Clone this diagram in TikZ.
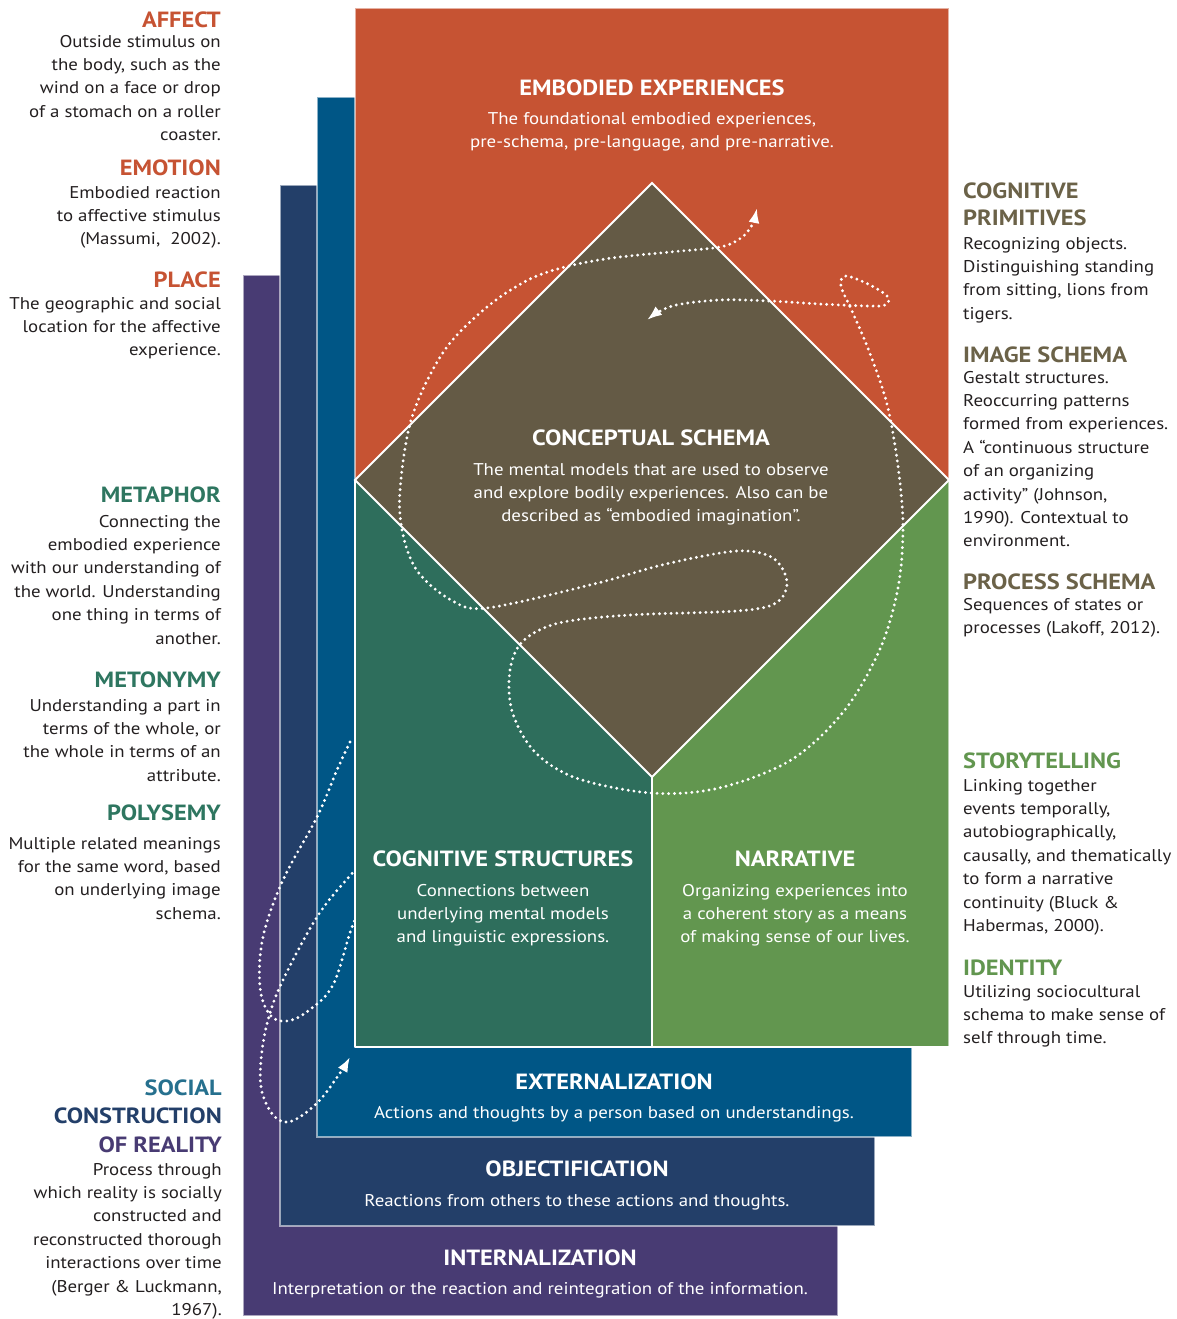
\documentclass[tikz,border=0pt]{standalone}
\usepackage{fontspec}
\setmainfont[FakeStretch=1.11]{PT Sans}
\usepackage{xcolor}
\definecolor{ColRed}{RGB}{198,83,51}
\definecolor{ColBrown}{RGB}{100,90,69}
\definecolor{ColTeal}{RGB}{46,110,92}
\definecolor{ColGreen}{RGB}{98,150,79}
\definecolor{ColBlue}{RGB}{0,86,134}
\definecolor{ColNavy}{RGB}{35,63,105}
\definecolor{ColPurple}{RGB}{72,59,115}
\definecolor{ColMeta}{RGB}{46,118,96}
\definecolor{ColOlive}{RGB}{107,98,72}
\definecolor{ColSocial}{RGB}{38,112,142}
\definecolor{ColText}{RGB}{35,31,32}
\usetikzlibrary{arrows.meta}
\tikzstyle{Layer}=[draw=white,draw opacity=.55,line width=1.2pt]
\tikzstyle{Head}=[inner sep=0pt,font=\fontsize{22}{27}\selectfont\bfseries]
\tikzstyle{Body}=[inner sep=0pt,font=\fontsize{17}{23.4}\selectfont,text=ColText]
\tikzstyle{Inner}=[Body,text=white]
\tikzstyle{Trail}=[draw=white,line width=3.2pt,line cap=round,
    dash pattern=on 0pt off 5.8pt]

\begin{document}
\begin{tikzpicture}[x=1pt,y=1pt]
    \useasboundingbox(0,0)rectangle(1177,-1319);
    % stacked layers
    \fill[ColPurple,Layer](243,-275)rectangle(838,-1316);
    \fill[ColNavy,Layer](280,-185)rectangle(875,-1226);
    \fill[ColBlue,Layer](317,-97)rectangle(912,-1137);
    % loop through the layers
    \coordinate(lpS)at(350,-742);
    \coordinate(lpE)at(350,-1057);
    \draw[Trail,{Circle[length=8pt,width=8pt]}-{Latex[length=15pt,width=11pt]}]
        plot[smooth,tension=.6]coordinates{(lpS)(337,-770)(317,-817)(283,-880)
            (263,-937)(260,-987)(270,-1015)(287,-1021)(308,-1011)(333,-985)
            (352,-927)(368,-895)}
        plot[smooth,tension=.6]coordinates{(366,-862)(348,-878)(317,-917)
            (283,-980)(268,-1020)(261,-1060)(262,-1092)(275,-1117)(292,-1121)
            (318,-1102)(340,-1073)(lpE)};
    % main block
    \fill[ColRed](355,-8)rectangle(949,-480);
    \fill[ColTeal](355,-480)rectangle(652,-1047);
    \fill[ColGreen](652,-480)rectangle(949,-1047);
    \draw[Layer](355,-8)rectangle(949,-1047);
    \draw[white,line width=1.8pt](355,-1047)--(949,-1047);
    \draw[white,line width=1.8pt](355,-480)--(355,-1047);
    \filldraw[fill=ColBrown,draw=white,line width=2pt,line join=miter]
        (652,-183)--(949,-480)--(652,-777)--(355,-480)--cycle;
    \draw[white,line width=2pt](652,-777)--(652,-1047);
    % path around the schema
    \coordinate(csS)at(757,-208);
    \coordinate(csE)at(647,-320);
    \draw[Trail,{Latex[length=15pt,width=11pt]}-{Latex[length=15pt,width=11pt]}]
        plot[smooth,tension=.55]coordinates{(csS)(752,-225)(741,-238)(720,-247)
            (670,-252)(612,-258)(569,-266)(530,-279)(487,-307)(444,-351)
            (412,-417)(400,-490)(403,-535)(418,-572)(451,-600)(487,-608)
            (594,-584)(666,-564)(737,-551)(773,-558)(787,-582)(776,-603)
            (737,-611)(630,-615)(559,-623)(523,-641)(510,-670)(512,-711)
            (534,-751)(576,-778)(651,-793)(719,-788)(791,-760)(844,-711)
            (880,-649)(898,-588)(903,-527)(898,-466)(887,-404)(869,-351)
            (852,-311)(841,-286)(846,-276)(870,-285)(888,-297)(885,-305)
            (868,-306)(820,-304)(770,-301)(720,-300)(672,-306)(csE)};
    % inner texts
    \node[Head,text=white,anchor=base](embH)at(652,-96){EMBODIED EXPERIENCES};
    \node[Inner,anchor=north,align=center](embB)at(652,-107.6)
        {\strut The foundational embodied experiences,\\
         pre-schema, pre-language, and pre-narrative.};
    \node[Head,text=white,anchor=base](conH)at(651,-445){CONCEPTUAL SCHEMA};
    \node[Inner,anchor=north,align=center](conB)at(651,-458.6)
        {\strut The mental models that are used to observe\\
         and explore bodily experiences. Also can be\\
         described as “embodied imagination”.};
    \node[Head,text=white,anchor=base](strH)at(503,-866){COGNITIVE STRUCTURES};
    \node[Inner,anchor=north,align=center](strB)at(503,-879.6)
        {\strut Connections between\\underlying mental models\\
         and linguistic expressions.};
    \node[Head,text=white,anchor=base](narH)at(795,-866){NARRATIVE};
    \node[Inner,anchor=north,align=center](narB)at(795,-879.6)
        {\strut Organizing experiences into\\a coherent story as a means\\
         of making sense of our lives.};
    \node[Head,text=white,anchor=base](extH)at(614,-1089){EXTERNALIZATION};
    \node[Inner,anchor=base](extB)at(614,-1118)
        {Actions and thoughts by a person based on understandings.};
    \node[Head,text=white,anchor=base](objH)at(577,-1176){OBJECTIFICATION};
    \node[Inner,anchor=base](objB)at(577,-1206)
        {Reactions from others to these actions and thoughts.};
    \node[Head,text=white,anchor=base](intH)at(540,-1265){INTERNALIZATION};
    \node[Inner,anchor=base](intB)at(540,-1294)
        {Interpretation or the reaction and reintegration of the information.};
    % left column
    \node[Head,text=ColRed,anchor=base east](affH)at(221,-28){AFFECT};
    \node[Body,anchor=north east,align=right](affB)at(221,-30.6)
        {\strut Outside stimulus on\\the body, such as the\\
         wind on a face or drop\\of a stomach on a roller\\coaster.};
    \node[Head,text=ColRed,anchor=base east](emoH)at(221,-175){EMOTION};
    \node[Body,anchor=north east,align=right](emoB)at(221,-181.6)
        {\strut Embodied reaction\\to affective stimulus\\(Massumi,\ \ 2002).};
    \node[Head,text=ColRed,anchor=base east](plaH)at(221,-287){PLACE};
    \node[Body,anchor=north east,align=right](plaB)at(221,-292.6)
        {\strut The geographic and social\\location for the affective\\
         experience.};
    \node[Head,text=ColMeta,anchor=base east](metH)at(221,-502){METAPHOR};
    \node[Body,anchor=north east,align=right](metB)at(221,-510.6)
        {\strut Connecting the\\embodied experience\\
         with our understanding of\\the world. Understanding\\
         one thing in terms of\\another.};
    \node[Head,text=ColMeta,anchor=base east](mtnH)at(221,-687){METONYMY};
    \node[Body,anchor=north east,align=right](mtnB)at(221,-694.6)
        {\strut Understanding a part in\\terms of the whole, or\\
         the whole in terms of an\\attribute.};
    \node[Head,text=ColMeta,anchor=base east](polH)at(221,-820){POLYSEMY};
    \node[Body,anchor=north east,align=right](polB)at(221,-832.6)
        {\strut Multiple related meanings\\for the same word, based\\
         on underlying image\\schema.};
    \node[Head,text=ColSocial,anchor=base east](socH)at(222,-1095){SOCIAL};
    \node[Head,text=ColNavy,anchor=base east](conH2)at(222,-1123){CONSTRUCTION};
    \node[Head,text=ColPurple,anchor=base east](reaH)at(222,-1152){OF REALITY};
    \node[Body,anchor=north east,align=right](socB)at(222,-1158.6)
        {\strut Process through\\which reality is socially\\
         constructed and\\reconstructed thorough\\
         interactions over time\\(Berger \& Luckmann,\\1967).};
    % right column
    \node[Head,text=ColOlive,anchor=north west,align=left](priH)at(963,-179.1)
        {\strut COGNITIVE\\PRIMITIVES};
    \node[Body,anchor=north west,align=left](priB)at(963,-232.6)
        {\strut Recognizing objects.\\Distinguishing standing\\
         from sitting, lions from\\tigers.};
    \node[Head,text=ColOlive,anchor=base west](imgH)at(963,-362){IMAGE SCHEMA};
    \node[Body,anchor=north west,align=left](imgB)at(963,-366.6)
        {\strut Gestalt structures.\\Reoccurring patterns\\
         formed from experiences.\\A “continuous structure\\
         of an organizing\\activity” (Johnson,\\
         1990). Contextual to\\environment.};
    \node[Head,text=ColOlive,anchor=base west](proH)at(963,-589){PROCESS SCHEMA};
    \node[Body,anchor=north west,align=left](proB)at(963,-593.6)
        {\strut Sequences of states or\\processes (Lakoff, 2012).};
    \node[Head,text=ColGreen,anchor=base west](stoH)at(963,-768){STORYTELLING};
    \node[Body,anchor=north west,align=left](stoB)at(963,-774.6)
        {\strut Linking together\\events temporally,\\
         autobiographically,\\causally, and thematically\\
         to form a narrative\\continuity (Bluck \&\\Habermas, 2000).};
    \node[Head,text=ColGreen,anchor=base west](ideH)at(963,-975){IDENTITY};
    \node[Body,anchor=north west,align=left](ideB)at(963,-980.6)
        {\strut Utilizing sociocultural\\schema to make sense of\\
         self through time.};
\end{tikzpicture}
\end{document}
